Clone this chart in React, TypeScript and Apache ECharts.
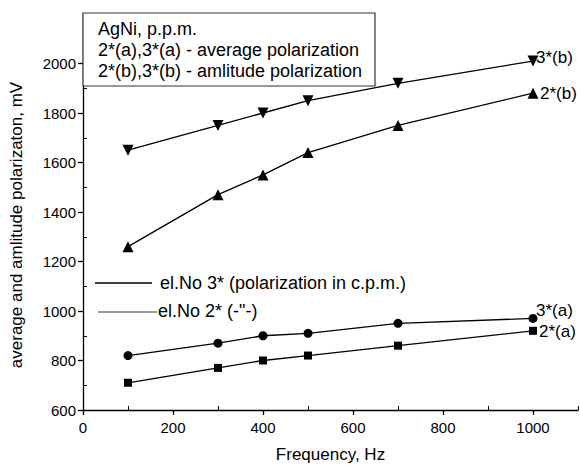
import React, { useEffect, useRef } from "react";
import * as echarts from "echarts";

const frequencies = [100, 300, 400, 500, 700, 1000];
const s3b = [1650, 1750, 1800, 1850, 1920, 2010];
const s2b = [1260, 1470, 1550, 1640, 1750, 1880];
const s3a = [820, 870, 900, 910, 950, 970];
const s2a = [710, 770, 800, 820, 860, 920];
const xTicks = [0, 200, 400, 600, 800, 1000];
const xMinorTicks = [100, 300, 500, 700, 900, 1100];
const yTicks = [600, 800, 1000, 1200, 1400, 1600, 1800, 2000];
const yMinorTicks = [700, 900, 1100, 1300, 1500, 1700, 1900, 2100];
const boxLines = [
  "AgNi, p.p.m.",
  "2*(a),3*(a) - average polarization",
  "2*(b),3*(b) - amlitude polarization",
];
const lineLegend = ["el.No 3* (polarization in c.p.m.)", "el.No 2* (-\"-)"];

const FONT = "'Liberation Sans', Arial, sans-serif";
const INK = "#000";

function pairs(ys: number[]) {
  return frequencies.map((x, i) => [x, ys[i]]);
}

export default function App() {
  const ref = useRef<HTMLDivElement>(null);
  useEffect(() => {
    if (!ref.current) return;
    const chart = echarts.init(ref.current, null, { renderer: "svg" });
    const mkSeries = (
      name: string,
      ys: number[],
      symbol: string,
      size: number,
      rotate: number,
      distance: number,
      offset: number[]
    ) => ({
      name,
      type: "line",
      data: pairs(ys),
      symbol,
      symbolSize: size,
      symbolRotate: rotate,
      showAllSymbol: true,
      lineStyle: { color: INK, width: 1.3 },
      itemStyle: { color: INK },
      endLabel: {
        show: true,
        formatter: name,
        distance,
        offset,
        fontFamily: FONT,
        fontSize: 17,
        color: INK,
      },
    });
    const plain = (v: number) => String(v);
    const option: any = {
      animation: false,
      backgroundColor: "#fff",
      grid: { left: 82, right: 2, top: 14, bottom: 55, containLabel: false },
      xAxis: [
        {
          type: "value",
          min: 0,
          max: 1100,
          interval: 200,
          position: "bottom",
          name: "Frequency, Hz",
          nameLocation: "middle",
          nameGap: 36,
          nameTextStyle: { fontFamily: FONT, fontSize: 17, color: INK },
          axisLine: { show: true, onZero: false, lineStyle: { color: INK, width: 1.3 } },
          axisTick: { show: true, inside: false, length: 5, customValues: xTicks, lineStyle: { color: INK, width: 1.3 } },
          axisLabel: { customValues: xTicks, formatter: plain, margin: 10, fontFamily: FONT, fontSize: 15, color: INK },
          splitLine: { show: false },
        },
        {
          type: "value",
          min: 0,
          max: 1100,
          position: "bottom",
          axisLine: { show: false, onZero: false },
          axisTick: { show: true, inside: true, length: 4, customValues: xMinorTicks, lineStyle: { color: INK, width: 1 } },
          axisLabel: { show: false },
          splitLine: { show: false },
        },
      ],
      yAxis: [
        {
          type: "value",
          min: 600,
          max: 2200,
          interval: 200,
          position: "left",
          name: "average and amlitude polarizaton, mV",
          nameLocation: "middle",
          nameGap: 58,
          nameTextStyle: { fontFamily: FONT, fontSize: 17, color: INK, padding: [0, 26, 0, 0] },
          axisLine: { show: true, onZero: false, lineStyle: { color: INK, width: 1.3 } },
          axisTick: { show: true, inside: false, length: 5, customValues: yTicks, lineStyle: { color: INK, width: 1.3 } },
          axisLabel: { customValues: yTicks, formatter: plain, margin: 7, fontFamily: FONT, fontSize: 15, color: INK },
          splitLine: { show: false },
        },
        {
          type: "value",
          min: 600,
          max: 2200,
          position: "left",
          axisLine: { show: false, onZero: false },
          axisTick: { show: true, inside: true, length: 4, customValues: yMinorTicks, lineStyle: { color: INK, width: 1 } },
          axisLabel: { show: false },
          splitLine: { show: false },
        },
      ],
      series: [
        mkSeries("3*(b)", s3b, "triangle", 11, 180, 3, [0, -4]),
        mkSeries("2*(b)", s2b, "triangle", 11, 0, 7, [0, 0]),
        mkSeries("3*(a)", s3a, "circle", 9, 0, 3, [0, -8]),
        mkSeries("2*(a)", s2a, "rect", 8, 0, 6, [0, 1]),
      ],
      graphic: [
        {
          type: "rect",
          shape: { x: 83, y: 13, width: 292, height: 73 },
          style: { fill: "#fff", stroke: "#333", lineWidth: 1.2 },
          z: 100,
        },
        ...boxLines.map((t, i) => ({
          type: "text",
          x: 98,
          y: 29 + i * 21,
          style: { text: t, fontFamily: FONT, fontSize: 18, fill: INK, verticalAlign: "middle", align: "left" },
          z: 101,
        })),
        {
          type: "line",
          shape: { x1: 95, y1: 283, x2: 152, y2: 283 },
          style: { stroke: INK, lineWidth: 1.3 },
          z: 101,
        },
        {
          type: "line",
          shape: { x1: 98, y1: 312, x2: 157, y2: 312 },
          style: { stroke: "#777", lineWidth: 1.3 },
          z: 101,
        },
        {
          type: "text",
          x: 160,
          y: 283,
          style: { text: lineLegend[0], fontFamily: FONT, fontSize: 18, fill: INK, verticalAlign: "middle", align: "left" },
          z: 101,
        },
        {
          type: "text",
          x: 158,
          y: 311,
          style: { text: lineLegend[1], fontFamily: FONT, fontSize: 18, fill: INK, verticalAlign: "middle", align: "left" },
          z: 101,
        },
      ],
    };
    chart.setOption(option);
    return () => chart.dispose();
  }, []);
  return (
    <div
      ref={ref}
      style={{ position: "fixed", left: 0, top: 0, width: 580, height: 468, background: "#fff" }}
    />
  );
}
